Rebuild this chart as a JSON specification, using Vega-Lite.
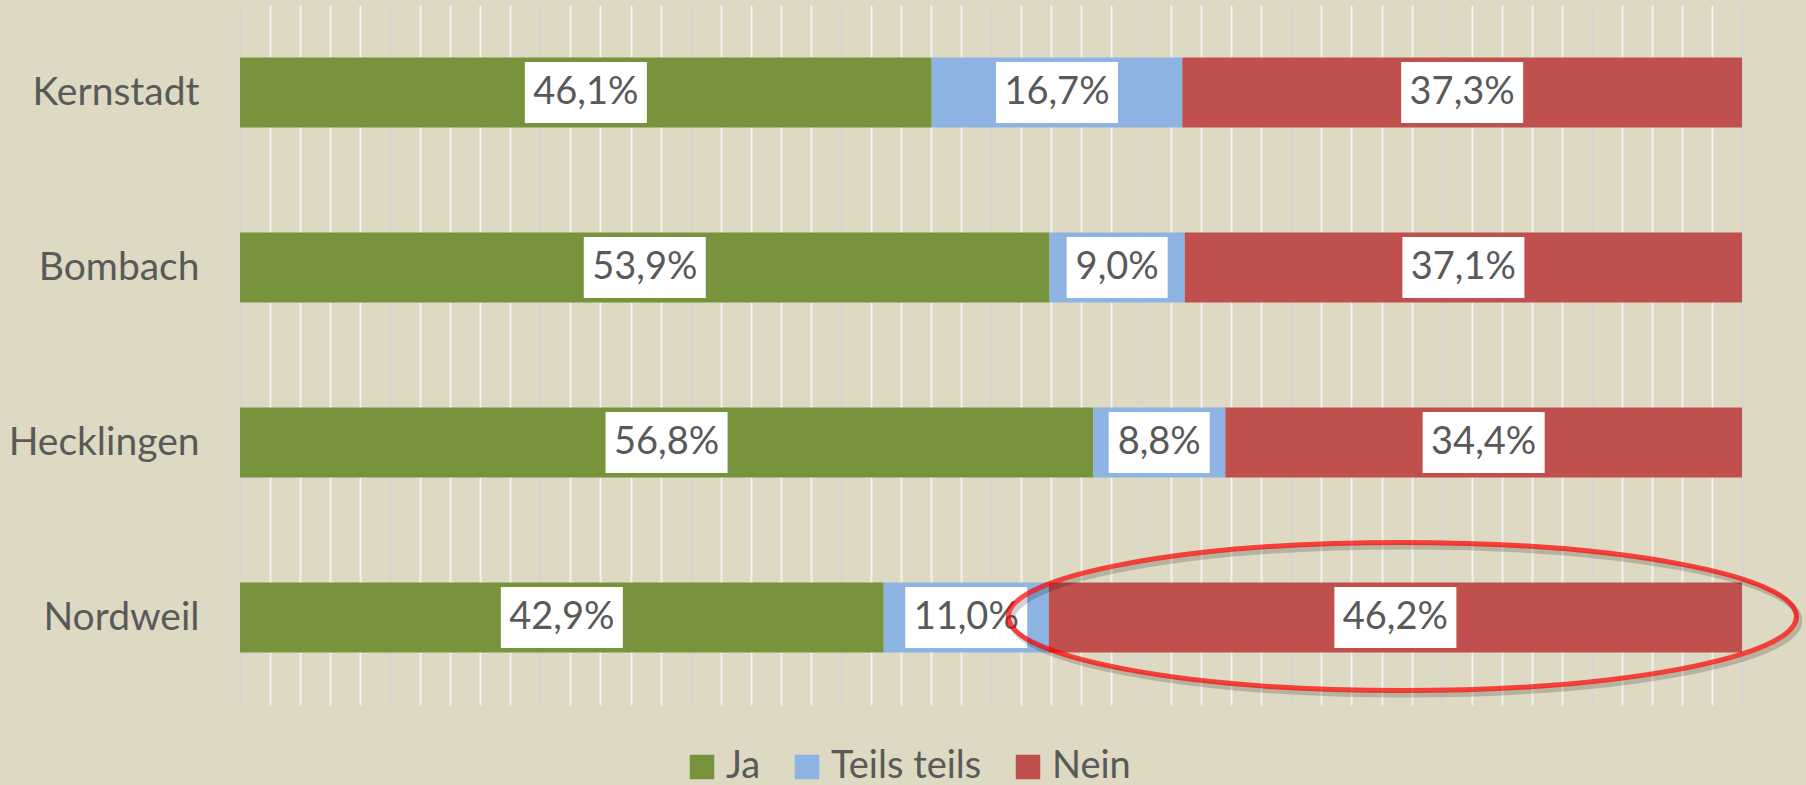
{
  "$schema": "https://vega.github.io/schema/vega-lite/v6.json",
  "width": 1502,
  "height": 700,
  "autosize": "none",
  "padding": {"left": 240, "top": 5, "right": 64, "bottom": 80},
  "background": "#DDD9C3",
  "config": {"view": {"stroke": null}, "font": "Lato"},
  "data": {
    "values": [
      {"Ort": "Kernstadt", "Antwort": "Ja", "Wert": 46.1},
      {"Ort": "Kernstadt", "Antwort": "Teils teils", "Wert": 16.7},
      {"Ort": "Kernstadt", "Antwort": "Nein", "Wert": 37.3},
      {"Ort": "Bombach", "Antwort": "Ja", "Wert": 53.9},
      {"Ort": "Bombach", "Antwort": "Teils teils", "Wert": 9.0},
      {"Ort": "Bombach", "Antwort": "Nein", "Wert": 37.1},
      {"Ort": "Hecklingen", "Antwort": "Ja", "Wert": 56.8},
      {"Ort": "Hecklingen", "Antwort": "Teils teils", "Wert": 8.8},
      {"Ort": "Hecklingen", "Antwort": "Nein", "Wert": 34.4},
      {"Ort": "Nordweil", "Antwort": "Ja", "Wert": 42.9},
      {"Ort": "Nordweil", "Antwort": "Teils teils", "Wert": 11.0},
      {"Ort": "Nordweil", "Antwort": "Nein", "Wert": 46.2}
    ]
  },
  "transform": [
    {"calculate": "indexof(['Ja','Teils teils','Nein'], datum.Antwort)", "as": "idx"},
    {"stack": "Wert", "groupby": ["Ort"], "sort": [{"field": "idx", "order": "ascending"}], "offset": "normalize", "as": ["x0", "x1"]},
    {"calculate": "(datum.x0 + datum.x1) / 2", "as": "mid"},
    {"calculate": "replace(format(datum.Wert, '.1f'), '.', ',') + '%'", "as": "label"}
  ],
  "encoding": {
    "y": {
      "field": "Ort",
      "type": "nominal",
      "sort": ["Kernstadt", "Bombach", "Hecklingen", "Nordweil"],
      "scale": {"paddingInner": 0.6, "paddingOuter": 0.3},
      "axis": {
        "title": null,
        "domain": false,
        "ticks": false,
        "labelFontSize": 39,
        "labelFont": "Lato",
        "labelColor": "#595959",
        "labelPadding": 41,
        "labelLimit": 400
      }
    }
  },
  "layer": [
    {
      "mark": {"type": "bar"},
      "encoding": {
        "x": {
          "field": "x0",
          "type": "quantitative",
          "scale": {"domain": [0, 1], "nice": false},
          "axis": {
            "title": null,
            "labels": false,
            "ticks": false,
            "domain": false,
            "grid": true,
            "gridWidth": 2,
            "tickCount": 100,
            "gridColor": {"condition": {"test": "round(datum.value * 50) % 5 == 0", "value": "#D5D5D3"}, "value": "#F2F2F0"},
            "values": [0, 0.02, 0.04, 0.06, 0.08, 0.1, 0.12, 0.14, 0.16, 0.18, 0.2, 0.22, 0.24, 0.26, 0.28, 0.3, 0.32, 0.34, 0.36, 0.38, 0.4, 0.42, 0.44, 0.46, 0.48, 0.5, 0.52, 0.54, 0.56, 0.58, 0.6, 0.62, 0.64, 0.66, 0.68, 0.7, 0.72, 0.74, 0.76, 0.78, 0.8, 0.82, 0.84, 0.86, 0.88, 0.9, 0.92, 0.94, 0.96, 0.98, 1]
          }
        },
        "x2": {"field": "x1"},
        "color": {
          "field": "Antwort",
          "type": "nominal",
          "sort": ["Ja", "Teils teils", "Nein"],
          "scale": {"domain": ["Ja", "Teils teils", "Nein"], "range": ["#77933C", "#8EB4E3", "#C0504D"]},
          "legend": {
            "orient": "none",
            "legendX": 443,
            "legendY": 743,
            "direction": "horizontal",
            "title": null,
            "symbolType": "square",
            "symbolSize": 600,
            "symbolStrokeWidth": 0,
            "symbolOpacity": 1,
            "labelFontSize": 38,
            "labelFont": "Lato",
            "labelColor": "#595959",
            "labelOffset": 5,
            "labelLimit": 400,
            "columnPadding": 27
          }
        }
      }
    },
    {
      "mark": {"type": "point", "filled": true, "fill": "#FFFFFF", "opacity": 1, "strokeWidth": 0},
      "encoding": {
        "x": {"field": "mid", "type": "quantitative"},
        "shape": {"condition": {"test": "length(datum.label) < 5", "value": "M-1,-0.604H1V0.604H-1Z"}, "value": "M-1,-0.5H1V0.5H-1Z"},
        "size": {"condition": {"test": "length(datum.label) < 5", "value": 10201}, "value": 14884}
      }
    },
    {
      "mark": {"type": "text", "font": "Lato", "fontSize": 38, "color": "#595959", "baseline": "middle", "align": "center"},
      "encoding": {
        "x": {"field": "mid", "type": "quantitative"},
        "text": {"field": "label"}
      }
    },
    {
      "transform": [{"filter": "datum.Ort == 'Nordweil' && datum.Antwort == 'Nein'"}],
      "mark": {"type": "point", "filled": false, "stroke": "#000000", "strokeOpacity": 0.25, "strokeWidth": 6, "xOffset": 10, "yOffset": 3, "shape": "M-1,0A1,0.188,0,1,0,1,0A1,0.188,0,1,0,-1,0Z", "size": 620944},
      "encoding": {"x": {"field": "mid", "type": "quantitative"}}
    },
    {
      "transform": [{"filter": "datum.Ort == 'Nordweil' && datum.Antwort == 'Nein'"}],
      "mark": {"type": "point", "filled": false, "stroke": "#FF0000", "strokeOpacity": 1, "strokeWidth": 5, "xOffset": 7, "yOffset": -1, "shape": "M-1,0A1,0.188,0,1,0,1,0A1,0.188,0,1,0,-1,0Z", "size": 620944},
      "encoding": {"x": {"field": "mid", "type": "quantitative"}}
    }
  ]
}
